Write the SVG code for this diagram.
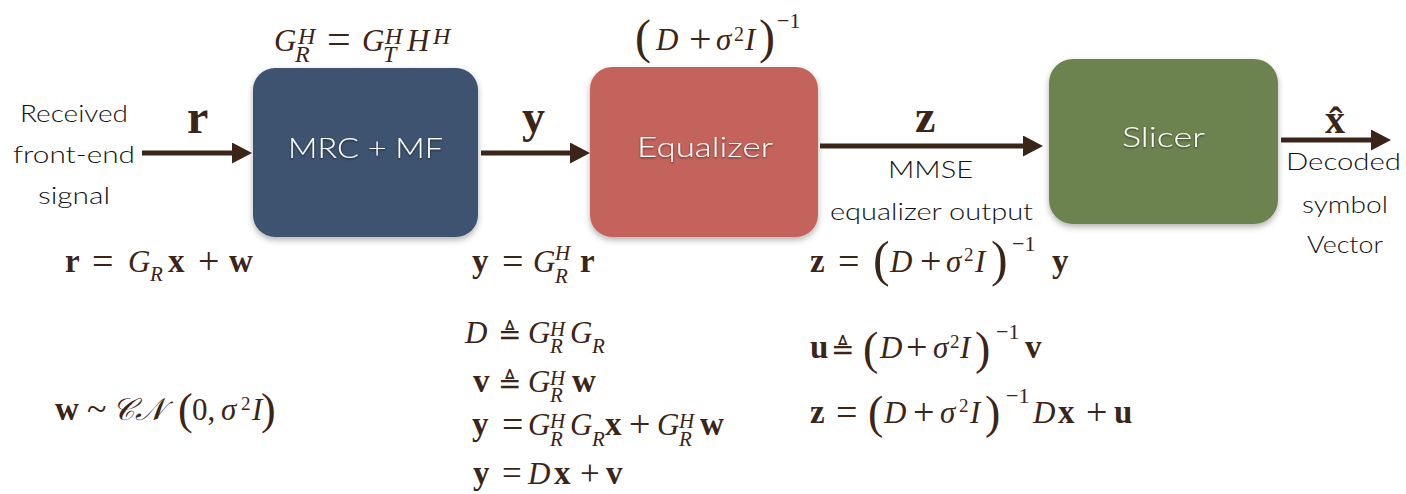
<svg xmlns="http://www.w3.org/2000/svg" width="1406" height="494" viewBox="0 0 1406 494">
<style>
.m{font-family:"Liberation Serif","DejaVu Serif",serif;font-size:31px;fill:#3b2418}
.b{font-weight:bold;font-size:33px}
.i{font-style:italic}
.s{font-size:21px}
.op{font-size:38px}
.t{font-family:"Lato","Liberation Sans",sans-serif;font-weight:300;font-size:24px;fill:#111}
.bt{font-family:"Lato","Liberation Sans",sans-serif;font-weight:300;font-size:27px;fill:#fff}
.lbl{font-family:"Liberation Serif",serif;font-weight:bold;fill:#3b2418}
.conn line{stroke:#3b2418;stroke-width:5}
</style>
<defs>
<marker id="ah" markerUnits="userSpaceOnUse" markerWidth="22" markerHeight="22" viewBox="0 0 22 22" refX="8" refY="10.5" orient="auto">
<path d="M0,0 L20,10.5 L0,21 z" fill="#3b2418"/>
</marker>
<filter id="sh" x="-10%" y="-10%" width="120%" height="125%">
<feDropShadow dx="0" dy="3" stdDeviation="3" flood-color="#000" flood-opacity="0.3"/>
</filter>
<filter id="ts" x="-10%" y="-20%" width="120%" height="140%">
<feDropShadow dx="0" dy="1" stdDeviation="1.2" flood-color="#000" flood-opacity="0.6"/>
</filter>
</defs>
<rect width="1406" height="494" fill="#fff"/>

<g id="mrc">
<rect x="253" y="68" width="225" height="169" rx="22" fill="#3e5270" filter="url(#sh)"/>
<text class="bt" x="288" y="158" textLength="155" lengthAdjust="spacingAndGlyphs" filter="url(#ts)">MRC + MF</text>
</g>
<g id="equalizer">
<rect x="590" y="67" width="228" height="170" rx="22" fill="#c4635b" filter="url(#sh)"/>
<text class="bt" x="637" y="157" textLength="136" lengthAdjust="spacingAndGlyphs" filter="url(#ts)">Equalizer</text>
</g>
<g id="slicer">
<rect x="1049" y="59" width="229" height="165" rx="24" fill="#6d834f" filter="url(#sh)"/>
<text class="bt" x="1122" y="147" textLength="83" lengthAdjust="spacingAndGlyphs" filter="url(#ts)">Slicer</text>
</g>

<g id="connectors" class="conn">
<line x1="142" y1="153" x2="240" y2="153" marker-end="url(#ah)"/>
<line x1="481" y1="153" x2="578" y2="153" marker-end="url(#ah)"/>
<line x1="820" y1="146" x2="1031" y2="146" marker-end="url(#ah)"/>
<line x1="1281" y1="140" x2="1379" y2="140" marker-end="url(#ah)"/>
</g>

<g id="labels">
<text class="lbl" x="187" y="133" font-size="48">r</text>
<text class="lbl" x="522" y="132" font-size="46">y</text>
<text class="lbl" x="915" y="132" font-size="46">z</text>
<text class="lbl" x="1325" y="133" font-size="40">x̂</text>
<text class="t" x="20" y="122" textLength="108" lengthAdjust="spacingAndGlyphs">Received</text>
<text class="t" x="13" y="163" textLength="122" lengthAdjust="spacingAndGlyphs">front-end</text>
<text class="t" x="38" y="204" textLength="72" lengthAdjust="spacingAndGlyphs">signal</text>
<text class="t" x="888" y="178" textLength="85" lengthAdjust="spacingAndGlyphs">MMSE</text>
<text class="t" x="830" y="220" textLength="203" lengthAdjust="spacingAndGlyphs">equalizer output</text>
<text class="t" x="1286" y="170" textLength="115" lengthAdjust="spacingAndGlyphs">Decoded</text>
<text class="t" x="1302" y="213" textLength="86" lengthAdjust="spacingAndGlyphs">symbol</text>
<text class="t" x="1307" y="253" textLength="76" lengthAdjust="spacingAndGlyphs">Vector</text>
</g>

<g id="formulas">
<!-- G_R^H = G_T^H H^H -->
<text class="m" font-size="34"><tspan class="i" x="274" y="51">G</tspan><tspan class="i" font-size="24" x="298" y="44">H</tspan><tspan class="i" font-size="24" x="295" y="62">R</tspan><tspan font-size="42" x="327" y="53">=</tspan><tspan class="i" x="362" y="51">G</tspan><tspan class="i" font-size="24" x="385" y="44">H</tspan><tspan class="i" font-size="24" x="383" y="62">T</tspan><tspan class="i" x="407" y="51">H</tspan><tspan class="i" font-size="24" x="433" y="44">H</tspan></text>
<!-- (D + s^2 I)^-1 -->
<text class="m" font-size="34"><tspan font-size="48" x="635" y="53">(</tspan><tspan class="i" x="656" y="50">D</tspan><tspan font-size="40" x="689" y="52">+</tspan><tspan class="i" x="716" y="50">σ</tspan><tspan font-size="20" x="734" y="41">2</tspan><tspan class="i" x="745" y="50">I</tspan><tspan font-size="48" x="759" y="53">)</tspan><tspan font-size="22" x="777" y="28">−1</tspan></text>

<!-- r = G_R x + w -->
<text class="m"><tspan class="b" x="65" y="272">r</tspan><tspan class="op" x="92" y="274">=</tspan><tspan class="i" x="128" y="272">G</tspan><tspan class="i s" x="150" y="281">R</tspan><tspan class="b" x="168" y="272">x</tspan><tspan class="op" x="198" y="274">+</tspan><tspan class="b" x="229" y="272">w</tspan></text>
<!-- w ~ CN(0, s^2 I) -->
<text class="m"><tspan class="b" x="55" y="420">w</tspan><tspan font-size="36" x="87" y="421">~</tspan><tspan class="i" x="112" y="420">𝒞𝒩</tspan><tspan font-size="44" x="178" y="424">(</tspan><tspan x="192" y="420">0,</tspan><tspan class="i" x="221" y="420">σ</tspan><tspan font-size="19" x="241" y="410">2</tspan><tspan class="i" x="252" y="420">I</tspan><tspan font-size="44" x="261" y="424">)</tspan></text>

<!-- y = G_R^H r -->
<text class="m"><tspan class="b" x="472" y="272">y</tspan><tspan class="op" x="502" y="274">=</tspan><tspan class="i" x="533" y="272">G</tspan><tspan class="i s" x="555" y="260">H</tspan><tspan class="i s" x="555" y="283">R</tspan><tspan class="b" x="580" y="272">r</tspan></text>
<!-- D ≜ G_R^H G_R -->
<text class="m"><tspan class="i" x="465" y="343">D</tspan><tspan font-family="DejaVu Sans, sans-serif" font-size="28" x="498" y="344">≜</tspan><tspan class="i" x="528" y="343">G</tspan><tspan class="i s" x="550" y="336">H</tspan><tspan class="i s" x="550" y="353">R</tspan><tspan class="i" x="570" y="343">G</tspan><tspan class="i s" x="592" y="353">R</tspan></text>
<!-- v ≜ G_R^H w -->
<text class="m"><tspan class="b" x="473" y="392">v</tspan><tspan font-family="DejaVu Sans, sans-serif" font-size="28" x="498" y="393">≜</tspan><tspan class="i" x="528" y="392">G</tspan><tspan class="i s" x="550" y="385">H</tspan><tspan class="i s" x="550" y="402">R</tspan><tspan class="b" x="572" y="392">w</tspan></text>
<!-- y = G_R^H G_R x + G_R^H w -->
<text class="m"><tspan class="b" x="472" y="435">y</tspan><tspan class="op" x="502" y="437">=</tspan><tspan class="i" x="528" y="435">G</tspan><tspan class="i s" x="550" y="428">H</tspan><tspan class="i s" x="550" y="446">R</tspan><tspan class="i" x="570" y="435">G</tspan><tspan class="i s" x="592" y="446">R</tspan><tspan class="b" x="605" y="435">x</tspan><tspan class="op" x="629" y="437">+</tspan><tspan class="i" x="657" y="435">G</tspan><tspan class="i s" x="679" y="428">H</tspan><tspan class="i s" x="679" y="446">R</tspan><tspan class="b" x="700" y="435">w</tspan></text>
<!-- y = Dx + v -->
<text class="m"><tspan class="b" x="473" y="484">y</tspan><tspan font-size="35" x="502" y="485">=</tspan><tspan class="i" x="528" y="484">D</tspan><tspan class="b" x="554" y="484">x</tspan><tspan font-size="35" x="580" y="485">+</tspan><tspan class="b" x="606" y="484">v</tspan></text>

<!-- z = (D + s^2 I)^-1 y -->
<text class="m"><tspan class="b" x="810" y="272">z</tspan><tspan class="op" x="838" y="274">=</tspan><tspan font-size="50" x="873" y="276">(</tspan><tspan class="i" x="890" y="272">D</tspan><tspan class="op" x="920" y="274">+</tspan><tspan class="i" x="946" y="272">σ</tspan><tspan font-size="19" x="964" y="261">2</tspan><tspan class="i" x="975" y="272">I</tspan><tspan font-size="50" x="991" y="276">)</tspan><tspan font-size="22" x="1012" y="251">−1</tspan><tspan class="b" x="1052" y="272">y</tspan></text>
<!-- u ≜ (D + s^2 I)^-1 v -->
<text class="m"><tspan class="b" x="810" y="358">u</tspan><tspan font-family="DejaVu Sans, sans-serif" font-size="28" x="831" y="359">≜</tspan><tspan font-size="46" x="863" y="364">(</tspan><tspan class="i" x="880" y="358">D</tspan><tspan class="op" x="906" y="360">+</tspan><tspan class="i" x="933" y="358">σ</tspan><tspan font-size="19" x="950" y="348">2</tspan><tspan class="i" x="960" y="358">I</tspan><tspan font-size="46" x="975" y="364">)</tspan><tspan font-size="22" x="996" y="339">−1</tspan><tspan class="b" x="1025" y="358">v</tspan></text>
<!-- z = (D + s^2 I)^-1 Dx + u -->
<text class="m"><tspan class="b" x="810" y="423">z</tspan><tspan class="op" x="836" y="425">=</tspan><tspan font-size="46" x="868" y="428">(</tspan><tspan class="i" x="884" y="423">D</tspan><tspan class="op" x="913" y="425">+</tspan><tspan class="i" x="940" y="423">σ</tspan><tspan font-size="19" x="959" y="412">2</tspan><tspan class="i" x="970" y="423">I</tspan><tspan font-size="46" x="985" y="428">)</tspan><tspan font-size="22" x="1006" y="403">−1</tspan><tspan class="i" x="1033" y="423">D</tspan><tspan class="b" x="1058" y="423">x</tspan><tspan class="op" x="1086" y="425">+</tspan><tspan class="b" x="1114" y="423">u</tspan></text>
</g>
</svg>
